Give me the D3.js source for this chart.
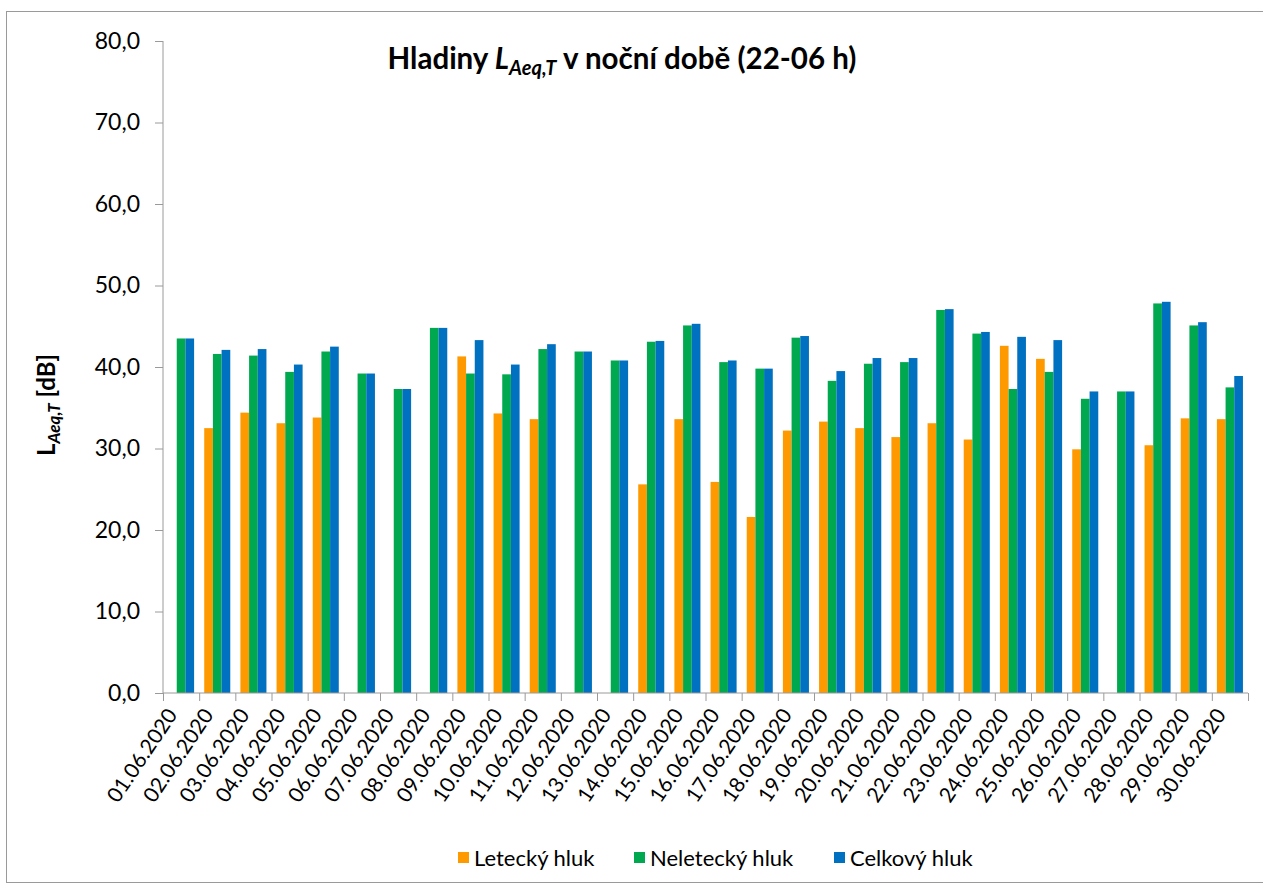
<!DOCTYPE html>
<html>
<head>
<meta charset="utf-8">
<script src="https://cdn.jsdelivr.net/npm/d3@7"></script>
<style>
  body { margin: 0; background: #fff; }
  svg { font-family: Lato, "Open Sans", sans-serif; }
</style>
</head>
<body>
<svg id="chart" width="1263" height="887"></svg>
<script>
// data
const dates = ["01.06.2020", "02.06.2020", "03.06.2020", "04.06.2020", "05.06.2020", "06.06.2020",
    "07.06.2020", "08.06.2020", "09.06.2020", "10.06.2020", "11.06.2020", "12.06.2020",
    "13.06.2020", "14.06.2020", "15.06.2020", "16.06.2020", "17.06.2020", "18.06.2020",
    "19.06.2020", "20.06.2020", "21.06.2020", "22.06.2020", "23.06.2020", "24.06.2020",
    "25.06.2020", "26.06.2020", "27.06.2020", "28.06.2020", "29.06.2020", "30.06.2020"];

const letecky = [null, 32.5, 34.4, 33.1, 33.8, null, null, null, 41.3, 34.3,
    33.6, null, null, 25.6, 33.6, 25.9, 21.6, 32.2, 33.3, 32.5,
    31.4, 33.1, 31.1, 42.6, 41.0, 29.9, null, 30.4, 33.7, 33.6];

const neletecky = [43.5, 41.6, 41.4, 39.4, 41.9, 39.2, 37.3, 44.8, 39.2, 39.1,
    42.2, 41.9, 40.8, 43.1, 45.1, 40.6, 39.8, 43.6, 38.3, 40.4,
    40.6, 47.0, 44.1, 37.3, 39.4, 36.1, 37.0, 47.8, 45.1, 37.5];

const celkovy = [43.5, 42.1, 42.2, 40.3, 42.5, 39.2, 37.3, 44.8, 43.3, 40.3,
    42.8, 41.9, 40.8, 43.2, 45.3, 40.8, 39.8, 43.8, 39.5, 41.1,
    41.1, 47.1, 44.3, 43.7, 43.3, 37.0, 37.0, 48.0, 45.5, 38.9];

const seriesNames = ["Letecký hluk", "Neletecký hluk", "Celkový hluk"];
const seriesColors = ["#FF9900", "#00A94F", "#0070C0"];
const yTicks = [0, 10, 20, 30, 40, 50, 60, 70, 80];

const svg = d3.select("#chart");
const plot = { left: 163, right: 1248, top: 41, bottom: 693 };

// outer frame (right edge runs off the picture)
svg.append("rect")
    .attr("x", 6.5).attr("y", 11.5)
    .attr("width", 1262).attr("height", 871)
    .attr("fill", "none")
    .attr("stroke", "#9a9a9a");

const x0 = d3.scaleBand()
    .domain(dates)
    .range([plot.left, plot.right])
    .padding(0);

const gap = x0.step() * 0.28;
const x1 = d3.scaleBand()
    .domain(seriesNames)
    .range([gap / 2, x0.step() - gap / 2]);

const y = d3.scaleLinear()
    .domain([0, 80])
    .range([plot.bottom, plot.top]);

// bars
const rows = dates.map((d, i) => ({
    date: d,
    values: [letecky[i], neletecky[i], celkovy[i]]
}));

const groups = svg.append("g")
    .selectAll("g")
    .data(rows)
    .join("g")
    .attr("transform", d => `translate(${x0(d.date)},0)`);

groups.selectAll("rect")
    .data(d => d.values.map((v, k) => ({ key: seriesNames[k], value: v, k })).filter(e => e.value != null))
    .join("rect")
    .attr("x", d => x1(d.key))
    .attr("width", x1.bandwidth())
    .attr("y", d => y(d.value))
    .attr("height", d => y(0) - y(d.value))
    .attr("fill", d => seriesColors[d.k]);

// y axis
const yAxis = svg.append("g")
    .attr("transform", `translate(${plot.left},0)`)
    .call(d3.axisLeft(y)
        .tickValues(yTicks)
        .tickSize(8)
        .tickPadding(15)
        .tickFormat(d => d3.format(".1f")(d).replace(".", ",")));
yAxis.select(".domain").attr("stroke", "#9a9a9a").attr("d", `M0,${plot.top}V${plot.bottom}`);
yAxis.selectAll(".tick line").attr("stroke", "#9a9a9a");
yAxis.selectAll(".tick text")
    .attr("fill", "#000")
    .style("font-size", "23px")
    .style("font-family", "Lato");

// x axis: ticks on category boundaries
const xb = d3.scaleLinear().domain([0, dates.length]).range([plot.left, plot.right]);
const xAxis = svg.append("g")
    .attr("transform", `translate(0,${plot.bottom})`)
    .call(d3.axisBottom(xb)
        .tickValues(d3.range(dates.length + 1))
        .tickSize(8)
        .tickFormat(""));
xAxis.select(".domain").attr("stroke", "#9a9a9a").attr("d", `M${plot.left},0H${plot.right}`);
xAxis.selectAll(".tick line").attr("stroke", "#9a9a9a");

svg.append("g")
    .selectAll("text")
    .data(dates)
    .join("text")
    .attr("transform", d => `translate(${x0(d) + x0.bandwidth() / 2 - 3},${plot.bottom + 22}) rotate(-56)`)
    .attr("text-anchor", "end")
    .style("font-size", "21px")
    .attr("fill", "#000")
    .text(d => d);

// title
const title = svg.append("text")
    .attr("x", 622)
    .attr("y", 69)
    .attr("text-anchor", "middle")
    .style("font-size", "29.5px")
    .style("font-weight", "bold");
title.append("tspan").text("Hladiny ");
title.append("tspan").style("font-style", "italic").text("L");
title.append("tspan").style("font-style", "italic").style("font-size", "20px").attr("dy", 6).text("Aeq,T");
title.append("tspan").attr("dy", -6).text(" v noční době (22-06 h)");

// y axis label
const yLabel = svg.append("text")
    .attr("transform", `translate(55,405) rotate(-90)`)
    .attr("text-anchor", "middle")
    .style("font-size", "24px")
    .style("font-weight", "bold");
yLabel.append("tspan").text("L");
yLabel.append("tspan").style("font-style", "italic").style("font-size", "17px").attr("dy", 5).text("Aeq,T");
yLabel.append("tspan").attr("dy", -5).text(" [dB]");

// legend
const legendX = [458, 634, 834];
const legend = svg.append("g");
seriesNames.forEach((name, i) => {
    const g = legend.append("g").attr("transform", `translate(${legendX[i]},852)`);
    g.append("rect").attr("width", 11).attr("height", 11).attr("fill", seriesColors[i]);
    g.append("text")
        .attr("x", 16)
        .attr("y", 14)
        .style("font-size", "22px")
        .attr("fill", "#000")
        .text(name);
});
</script>
</body>
</html>
